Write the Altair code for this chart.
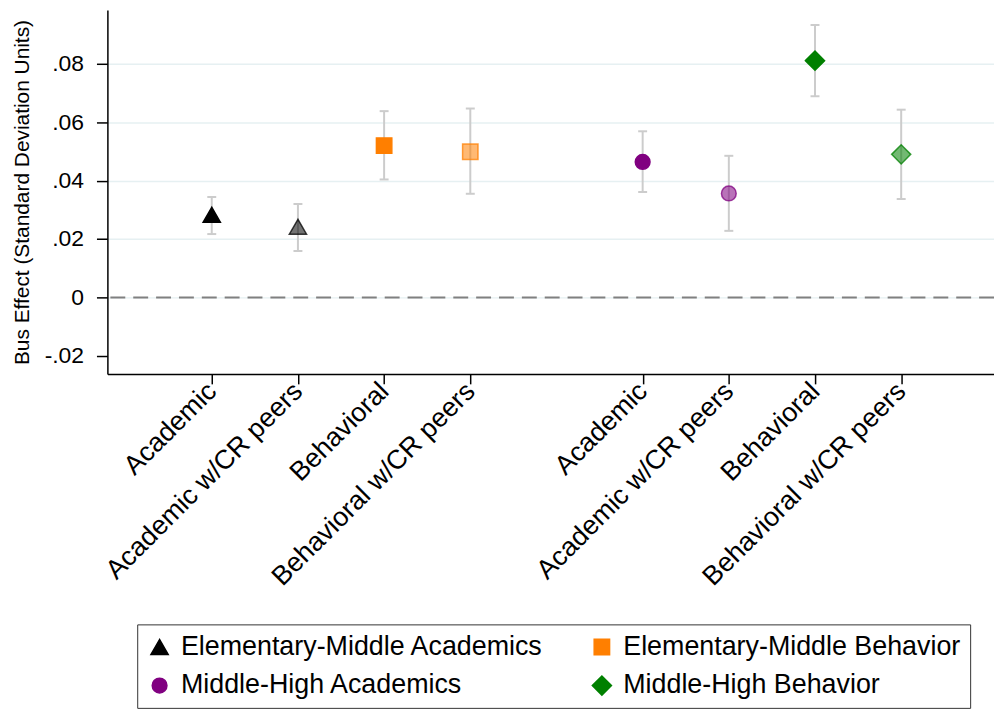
import altair as alt
import pandas as pd

# ---- data ----
positions = [1, 2, 3, 4, 6, 7, 8, 9]
tick_labels = ["Academic", "Academic w/CR peers", "Behavioral", "Behavioral w/CR peers",
               "Academic", "Academic w/CR peers", "Behavioral", "Behavioral w/CR peers"]
series = ["Elementary-Middle Academics", "Elementary-Middle Academics",
          "Elementary-Middle Behavior", "Elementary-Middle Behavior",
          "Middle-High Academics", "Middle-High Academics",
          "Middle-High Behavior", "Middle-High Behavior"]
with_peers = [0, 1, 0, 1, 0, 1, 0, 1]
estimates = [0.0283, 0.0242, 0.0520, 0.0499, 0.0464, 0.0356, 0.0811, 0.0490]
ci_low = [0.0217, 0.0159, 0.0404, 0.0355, 0.0361, 0.0228, 0.0689, 0.0337]
ci_high = [0.0344, 0.0320, 0.0638, 0.0647, 0.0569, 0.0485, 0.0933, 0.0643]
y_ticks = [-0.02, 0, 0.02, 0.04, 0.06, 0.08]
zero_line = [0]

# legend fills column by column: column 1 = Academics, column 2 = Behavior
series_order = ["Elementary-Middle Academics", "Middle-High Academics",
                "Elementary-Middle Behavior", "Middle-High Behavior"]
series_colors = ["#000000", "#800080", "#ff7f00", "#008000"]
series_shapes = ["triangle-up", "circle", "square", "diamond"]
series_sizes = [300, 220, 240, 370]

df = pd.DataFrame({
    "pos": positions, "label": tick_labels, "series": series, "peers": with_peers,
    "est": estimates, "lo": ci_low, "hi": ci_high,
})

label_array = [""] * (max(positions) + 1)
for p, l in zip(positions, tick_labels):
    label_array[p] = l
label_expr = "[" + ",".join("'" + s + "'" for s in label_array) + "][datum.value]"

FONT = "Liberation Sans"

xscale = alt.Scale(domain=[-0.211, 10.077], nice=False, zero=False)
yscale = alt.Scale(domain=[-0.0262, 0.0984], nice=False, zero=False)

xaxis = alt.Axis(values=positions, labelExpr=label_expr, labelAngle=315, labelAlign="right",
                 labelBaseline="middle", labelFontSize=27, labelPadding=3, tickSize=10,
                 labelLimit=500, labelOverlap=False, labelBound=False, labelFlush=False,
                 grid=False, title=None)
yaxis = alt.Axis(values=y_ticks,
                 labelExpr="datum.value == 0 ? '0' : (datum.value < 0 ? '-' : '') + '.' + slice(format(abs(datum.value), '.2f'), 2)",
                 labelFontSize=23, labelPadding=13, tickSize=11,
                 title="Bus Effect (Standard Deviation Units)", titleFontSize=21,
                 titleFontWeight="normal", titlePadding=12,
                 grid=True, gridColor="#e6f0f2", gridWidth=1.5,
                 gridOpacity={"condition": {"test": "datum.value < -0.01", "value": 0}, "value": 1})

X = alt.X("pos:Q", scale=xscale, axis=xaxis)

zero = alt.Chart(pd.DataFrame({"z": zero_line})).mark_rule(
    color="#808080", strokeWidth=2, strokeDash=[15, 8]
).encode(y=alt.Y("z:Q", scale=yscale, axis=yaxis))

base = alt.Chart(df)

errbars = base.mark_rule(color="#cccccc", strokeWidth=2).encode(
    x=X, y=alt.Y("lo:Q", scale=yscale, axis=yaxis), y2="hi:Q")
cap_lo = base.mark_tick(orient="horizontal", size=9, thickness=2, color="#cccccc", opacity=1).encode(
    x=X, y=alt.Y("lo:Q", scale=yscale, axis=yaxis))
cap_hi = base.mark_tick(orient="horizontal", size=9, thickness=2, color="#cccccc", opacity=1).encode(
    x=X, y=alt.Y("hi:Q", scale=yscale, axis=yaxis))

legend = alt.Legend(title=None, orient="none", legendX=30, legendY=618, columns=2,
                    columnPadding=45, rowPadding=11, gridAlign="all", labelFontSize=27,
                    labelFont=FONT, labelColor="#000000", labelLimit=600, labelOffset=8,
                    padding=9, strokeColor="#333333", fillColor="#ffffff", symbolOpacity=1)

points = base.mark_point(filled=True, strokeWidth=1.5, opacity=1).encode(
    x=X,
    y=alt.Y("est:Q", scale=yscale, axis=yaxis),
    color=alt.Color("series:N", scale=alt.Scale(domain=series_order, range=series_colors), legend=legend),
    shape=alt.Shape("series:N", scale=alt.Scale(domain=series_order, range=series_shapes), legend=legend),
    size=alt.Size("series:N", scale=alt.Scale(type="ordinal", domain=series_order, range=series_sizes), legend=legend),
    stroke=alt.Stroke("series:N", scale=alt.Scale(domain=series_order, range=series_colors), legend=None),
    fillOpacity=alt.condition("datum.peers == 1", alt.value(0.55), alt.value(1.0)),
    strokeOpacity=alt.condition("datum.peers == 1", alt.value(0.75), alt.value(1.0)),
)

chart = alt.layer(zero, errbars, cap_lo, cap_hi, points).properties(
    width=892, height=366,
    autosize=alt.AutoSizeParams(type="none"),
    padding={"left": 100, "top": 0, "right": 0, "bottom": 336},
).configure_view(stroke=None).configure_axis(
    domainColor="#000000", domainWidth=1.5, tickColor="#000000", tickWidth=1.5,
    labelColor="#000000", titleColor="#000000", labelFont=FONT, titleFont=FONT,
)

chart.save("out.html", embed_options={"renderer": "svg", "actions": False})
